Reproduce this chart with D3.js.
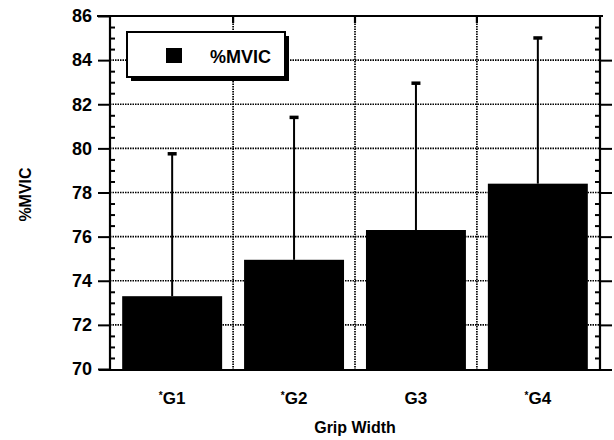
<!DOCTYPE html>
<html>
<head>
<meta charset="utf-8">
<script src="https://cdn.jsdelivr.net/npm/d3@7"></script>
<style>
  body { margin: 0; background: #fff; }
  svg { display: block; font-family: "Liberation Sans", Arial, sans-serif; }
</style>
</head>
<body>
<svg width="614" height="440"></svg>
<script>
// data
var categories = ["*G1", "*G2", "G3", "*G4"];
var means = [73.3, 74.95, 76.3, 78.4];
var upper = [79.8, 81.45, 83.0, 85.05]; // mean + SD
var yTicks = [70, 72, 74, 76, 78, 80, 82, 84, 86];
var seriesName = "%MVIC";

(function() {
  var svg = d3.select("svg");
  var left = 110, right = 600, plotTop = 16, plotBottom = 369;

  var y = d3.scaleLinear().domain([70, 86]).range([plotBottom, plotTop]);
  var x = d3.scaleBand().domain(categories).range([left, right])
    .paddingInner(0.18).paddingOuter(0.1);

  var minor = d3.range(70, 86.01, 0.5).filter(function(v) { return v % 2 !== 0; });

  // dotted grid
  var grid = svg.append("g").attr("stroke", "#000").attr("stroke-width", 1.7)
    .attr("stroke-dasharray", "1.5,1");
  grid.selectAll("line.h").data(yTicks.slice(1, -1)).enter().append("line")
    .attr("x1", left).attr("x2", right)
    .attr("y1", function(d) { return y(d); }).attr("y2", function(d) { return y(d); });
  var bounds = categories.slice(1).map(function(c) {
    return x(c) - x.step() * x.paddingInner() / 2;
  });
  grid.selectAll("line.v").data(bounds).enter().append("line")
    .attr("x1", function(d) { return d; }).attr("x2", function(d) { return d; })
    .attr("y1", plotTop).attr("y2", plotBottom);

  // bars
  svg.append("g").selectAll("rect").data(means).enter().append("rect")
    .attr("x", function(d, i) { return x(categories[i]); })
    .attr("width", x.bandwidth())
    .attr("y", function(d) { return y(d); })
    .attr("height", function(d) { return y(70) - y(d); })
    .attr("fill", "#000");

  // error bars (upper only)
  var err = svg.append("g").attr("stroke", "#000");
  upper.forEach(function(u, i) {
    var cx = x(categories[i]) + x.bandwidth() / 2;
    err.append("line").attr("x1", cx).attr("x2", cx)
      .attr("y1", y(means[i])).attr("y2", y(u)).attr("stroke-width", 2);
    err.append("line").attr("x1", cx - 4.5).attr("x2", cx + 4.5)
      .attr("y1", y(u) + 1).attr("y2", y(u) + 1).attr("stroke-width", 3.5);
  });

  // axes
  function styleAxis(g) {
    g.select(".domain").remove();
    g.selectAll("line").attr("stroke", "#000").attr("stroke-width", 2);
  }
  svg.append("g").attr("transform", "translate(" + left + ",0)")
    .call(d3.axisLeft(y).tickValues(yTicks).tickSize(12).tickPadding(6).tickFormat(d3.format("d")))
    .call(styleAxis)
    .call(function(g) {
      g.selectAll("text").attr("font-size", 18).attr("font-weight", "bold").attr("fill", "#000")
        .attr("font-family", "Liberation Sans, Arial, sans-serif");
    });
  svg.append("g").attr("transform", "translate(" + left + ",0)")
    .call(d3.axisLeft(y).tickValues(minor).tickSize(-5).tickFormat(""))
    .call(styleAxis);
  svg.append("g").attr("transform", "translate(" + right + ",0)")
    .call(d3.axisRight(y).tickValues(yTicks.slice(1, -1)).tickSize(12).tickFormat(""))
    .call(styleAxis);
  svg.append("g").attr("transform", "translate(" + right + ",0)")
    .call(d3.axisRight(y).tickValues(minor).tickSize(-5).tickFormat(""))
    .call(styleAxis);

  // frame
  var frame = svg.append("g").attr("stroke", "#000").attr("stroke-width", 2.2);
  frame.append("line").attr("x1", left).attr("x2", left).attr("y1", plotTop).attr("y2", plotBottom);
  frame.append("line").attr("x1", right).attr("x2", right).attr("y1", plotTop).attr("y2", plotBottom);
  frame.append("line").attr("x1", left - 13).attr("x2", right + 3).attr("y1", plotTop).attr("y2", plotTop);
  frame.append("line").attr("x1", left - 11).attr("x2", right + 12)
    .attr("y1", plotBottom + 1).attr("y2", plotBottom + 1);
  frame.selectAll("line.t").data(bounds).enter().append("line")
    .attr("x1", function(d) { return d; }).attr("x2", function(d) { return d; })
    .attr("y1", plotTop).attr("y2", plotTop + 7);

  // category labels
  var cat = svg.append("g").attr("font-size", 17).attr("font-weight", "bold")
    .attr("text-anchor", "middle");
  categories.forEach(function(c) {
    var t = cat.append("text")
      .attr("x", x(c) + x.bandwidth() / 2).attr("y", 404);
    if (c.charAt(0) === "*") {
      t.append("tspan").attr("font-size", 10).attr("dy", -5).text("*");
      t.append("tspan").attr("dy", 5).text(c.slice(1));
    } else {
      t.text(c);
    }
  });

  svg.append("text").attr("x", 355).attr("y", 433).attr("text-anchor", "middle")
    .attr("font-size", 16).attr("font-weight", "bold").text("Grip Width");
  svg.append("text").attr("transform", "translate(31," + ((plotTop + plotBottom) / 2 + 2) + ") rotate(-90)")
    .attr("text-anchor", "middle").attr("font-size", 16).attr("font-weight", "bold")
    .text(seriesName);

  // legend with drop shadow
  var lg = svg.append("g").attr("transform", "translate(127,32)");
  lg.append("rect").attr("x", 4).attr("y", 4).attr("width", 158).attr("height", 45).attr("fill", "#000");
  lg.append("rect").attr("width", 158).attr("height", 45).attr("fill", "#fff")
    .attr("stroke", "#000").attr("stroke-width", 2);
  lg.append("rect").attr("x", 39).attr("y", 16).attr("width", 16).attr("height", 15).attr("fill", "#000");
  lg.append("text").attr("x", 83).attr("y", 31).attr("font-size", 18).attr("font-weight", "bold")
    .text(seriesName);
})();
</script>
</body>
</html>
